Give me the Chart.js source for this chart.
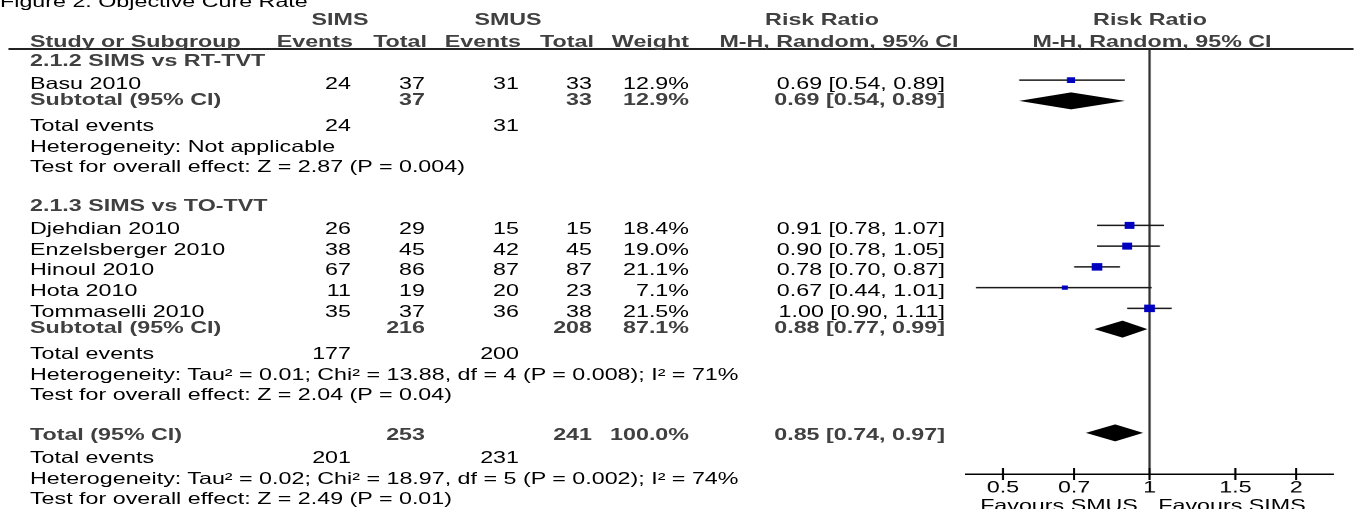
<!DOCTYPE html>
<html><head><meta charset="utf-8">
<script src="https://cdn.jsdelivr.net/npm/chart.js@4.4.1/dist/chart.umd.min.js"></script>
<style>
html,body{margin:0;padding:0;background:#fff;overflow:hidden;width:1362px;height:509px}
#stage{position:absolute;left:0;top:0;width:966px;height:509px;transform-origin:0 0;}
#stage canvas{position:absolute;left:0;top:0;}
.t{position:absolute;white-space:nowrap;font-family:"Liberation Sans",Arial,sans-serif;font-size:16.5px;line-height:16.5px;color:#000;}
.b{font-weight:bold;color:#404040;}
.r{transform:translateX(-100%);}
.c{transform:translateX(-50%);}
#rule{position:absolute;height:0;border-top:2px solid #222;}
</style></head>
<body><div id="stage"><canvas id="c" width="966" height="509"></canvas><div id="rule"></div></div>
<script>
// ---------------- DATA ----------------
const title = "Figure 2: Objective Cure Rate";
const studies = ["Basu 2010", "Djehdian 2010", "Enzelsberger 2010", "Hinoul 2010", "Hota 2010", "Tommaselli 2010"];
const simsEvents = [24, 26, 38, 67, 11, 35];
const simsTotal = [37, 29, 45, 86, 19, 37];
const smusEvents = [31, 15, 42, 87, 20, 36];
const smusTotal = [33, 15, 45, 87, 23, 38];
const weights = [12.9, 18.4, 19.0, 21.1, 7.1, 21.5];
const rr = [0.69, 0.91, 0.90, 0.78, 0.67, 1.00];
const rrLo = [0.54, 0.78, 0.78, 0.70, 0.44, 0.90];
const rrHi = [0.89, 1.07, 1.05, 0.87, 1.01, 1.11];

const subgroupNames = ["2.1.2 SIMS vs RT-TVT", "2.1.3 SIMS vs TO-TVT"];
const subgroupStudies = [[0], [1, 2, 3, 4, 5]];
const subSimsTotal = [37, 216];
const subSmusTotal = [33, 208];
const subWeight = [12.9, 87.1];
const subRR = [0.69, 0.88];
const subLo = [0.54, 0.77];
const subHi = [0.89, 0.99];
const subSimsEvents = [24, 177];
const subSmusEvents = [31, 200];
const subHet = ["Heterogeneity: Not applicable",
  "Heterogeneity: Tau\u00B2 = 0.01; Chi\u00B2 = 13.88, df = 4 (P = 0.008); I\u00B2 = 71%"];
const subTest = ["Test for overall effect: Z = 2.87 (P = 0.004)",
  "Test for overall effect: Z = 2.04 (P = 0.04)"];

const totalSimsTotal = 253;
const totalSmusTotal = 241;
const totalWeight = 100.0;
const totalRR = 0.85, totalLo = 0.74, totalHi = 0.97;
const totalSimsEvents = 201, totalSmusEvents = 231;
const totalHet = "Heterogeneity: Tau\u00B2 = 0.02; Chi\u00B2 = 18.97, df = 5 (P = 0.002); I\u00B2 = 74%";
const totalTest = "Test for overall effect: Z = 2.49 (P = 0.01)";

const tickValues = [0.5, 0.7, 1, 1.5, 2];
const tickLabels = ["0.5", "0.7", "1", "1.5", "2"];
const favoursLeft = "Favours SMUS", favoursRight = "Favours SIMS";

// ---------------- LAYOUT / STYLE ----------------
const W = 966, H = 509, SX = 1362 / W;
const FS = 16.5, CAP_MID = 0.4885;
const ROW_PX = 20.75;
const PLOT_TOP = 49, PLOT_BOTTOM = 474, PLOT_LEFT = 966, PLOT_RIGHT = 1333;
const X_MIN = 0.42, X_MAX = 2.38;
const SQ_K = 1.146;      // point radius per sqrt(weight)
const DIAMOND_H = 8.5;
const COL = {label: 30, simsEv: 351, simsTot: 425, smusEv: 519, smusTot: 592, weight: 689, rrText: 945};
const OFF = {group: 0.5, study: 2.5, subtotal: -2, events: 3.5, het: 3.5, test: 2.5, total: 1};

const stage = document.getElementById('stage');
stage.style.transform = 'scaleX(' + SX + ')';
const rule = document.getElementById('rule');
rule.style.left = (8 / SX) + 'px';
rule.style.top = '48px';
rule.style.width = ((1353 - 8) / SX) + 'px';

// table rows
const rows = [];
subgroupNames.forEach((name, g) => {
  rows.push({kind: 'group', g});
  subgroupStudies[g].forEach(i => rows.push({kind: 'study', i}));
  rows.push({kind: 'subtotal', g});
  rows.push({kind: 'events', a: subSimsEvents[g], b: subSmusEvents[g]});
  rows.push({kind: 'het', text: subHet[g]});
  rows.push({kind: 'test', text: subTest[g]});
  rows.push({kind: 'blank'});
});
rows.push({kind: 'total'});
rows.push({kind: 'events', a: totalSimsEvents, b: totalSmusEvents});
rows.push({kind: 'het', text: totalHet});
rows.push({kind: 'test', text: totalTest});

const rowY = r => r + 0.5;
const studyY = [];
const summaries = [];
rows.forEach((row, r) => {
  if (row.kind === 'study') studyY[row.i] = rowY(r);
  if (row.kind === 'subtotal') summaries.push({y: rowY(r), est: subRR[row.g], lo: subLo[row.g], hi: subHi[row.g]});
  if (row.kind === 'total') summaries.push({y: rowY(r), est: totalRR, lo: totalLo, hi: totalHi});
});

const forestPlugin = {
  id: 'forest',
  beforeDatasetsDraw(chart) {
    const {ctx, chartArea, scales: {x, y}} = chart;
    ctx.save();
    // line of no effect
    const x1 = x.getPixelForValue(1);
    ctx.strokeStyle = '#333';
    ctx.lineWidth = 1.6;
    ctx.beginPath(); ctx.moveTo(x1, chartArea.top); ctx.lineTo(x1, chartArea.bottom); ctx.stroke();
    // confidence intervals
    ctx.strokeStyle = '#1a1a1a';
    ctx.lineWidth = 1.4;
    studies.forEach((s, i) => {
      const py = y.getPixelForValue(studyY[i]);
      ctx.beginPath();
      ctx.moveTo(x.getPixelForValue(rrLo[i]), py);
      ctx.lineTo(x.getPixelForValue(rrHi[i]), py);
      ctx.stroke();
    });
    // summary diamonds
    ctx.fillStyle = '#000';
    summaries.forEach(d => {
      const py = y.getPixelForValue(d.y);
      const pe = x.getPixelForValue(d.est);
      ctx.beginPath();
      ctx.moveTo(x.getPixelForValue(d.lo), py);
      ctx.lineTo(pe, py - DIAMOND_H);
      ctx.lineTo(x.getPixelForValue(d.hi), py);
      ctx.lineTo(pe, py + DIAMOND_H);
      ctx.closePath();
      ctx.fill();
    });
    ctx.restore();
  },
  afterDraw(chart) {
    const {ctx, chartArea, scales: {x}} = chart;
    ctx.save();
    ctx.strokeStyle = '#000';
    ctx.lineWidth = 1.5;
    x.ticks.forEach(t => {
      const px = x.getPixelForValue(t.value);
      ctx.beginPath(); ctx.moveTo(px, chartArea.bottom - 6); ctx.lineTo(px, chartArea.bottom + 6); ctx.stroke();
    });
    ctx.restore();
  }
};

const chart = new Chart(document.getElementById('c'), {
  type: 'scatter',
  data: {
    datasets: [{
      data: studies.map((s, i) => ({x: rr[i], y: studyY[i]})),
      pointStyle: 'rect',
      pointRadius: c => SQ_K * Math.sqrt(weights[c.dataIndex]),
      pointHoverRadius: c => SQ_K * Math.sqrt(weights[c.dataIndex]),
      backgroundColor: '#0000C0',
      borderWidth: 0,
      showLine: false
    }]
  },
  options: {
    responsive: false,
    animation: false,
    devicePixelRatio: 2,
    events: [],
    layout: {padding: {left: PLOT_LEFT / SX, right: W - PLOT_RIGHT / SX, top: PLOT_TOP, bottom: 0}},
    plugins: {legend: {display: false}, tooltip: {enabled: false}},
    scales: {
      x: {
        type: 'logarithmic', position: 'bottom', min: X_MIN, max: X_MAX,
        afterBuildTicks: s => { s.ticks = tickValues.map(v => ({value: v})); },
        afterFit: s => { s.height = H - PLOT_BOTTOM; },
        grid: {display: false, drawTicks: false},
        border: {display: true, color: '#000', width: 1.5},
        ticks: {
          autoSkip: false, maxRotation: 0, padding: 4, color: '#000',
          font: {family: '"Liberation Sans", Arial, sans-serif', size: FS},
          callback: v => tickLabels[tickValues.indexOf(v)]
        }
      },
      y: {type: 'linear', display: false, min: 0, max: (PLOT_BOTTOM - PLOT_TOP) / ROW_PX, reverse: true}
    }
  },
  plugins: [forestPlugin]
});

// ---------------- TEXT ----------------
function put(str, xPage, yc, align, bold) {
  const d = document.createElement('div');
  d.className = 't' + (bold ? ' b' : '') + (align === 'r' ? ' r' : align === 'c' ? ' c' : '');
  d.textContent = str;
  d.style.left = (xPage / SX) + 'px';
  d.style.top = (yc - CAP_MID * FS) + 'px';
  stage.appendChild(d);
}
const fmtW = w => w.toFixed(1) + '%';
const fmtRR = (e, l, h) => e.toFixed(2) + ' [' + l.toFixed(2) + ', ' + h.toFixed(2) + ']';

put(title, 0, 1, 'l', false);
put('SIMS', 340, 19, 'c', true);
put('SMUS', 508, 19, 'c', true);
put('Risk Ratio', 822, 19, 'c', true);
put('Risk Ratio', 1150, 19, 'c', true);
put('Study or Subgroup', COL.label, 41, 'l', true);
put('Events', COL.simsEv + 2, 41, 'r', true);
put('Total', COL.simsTot + 2, 41, 'r', true);
put('Events', COL.smusEv + 2, 41, 'r', true);
put('Total', COL.smusTot + 2, 41, 'r', true);
put('Weight', COL.weight, 41, 'r', true);
put('M-H, Random, 95% CI', 839, 41, 'c', true);
put('M-H, Random, 95% CI', 1152, 41, 'c', true);

const ys = chart.scales.y;
rows.forEach((row, r) => {
  if (row.kind === 'blank') return;
  const yc = ys.getPixelForValue(rowY(r)) + OFF[row.kind];
  if (row.kind === 'group') {
    put(subgroupNames[row.g], COL.label, yc, 'l', true);
  } else if (row.kind === 'study') {
    const i = row.i;
    put(studies[i], COL.label, yc, 'l', false);
    put(String(simsEvents[i]), COL.simsEv, yc, 'r', false);
    put(String(simsTotal[i]), COL.simsTot, yc, 'r', false);
    put(String(smusEvents[i]), COL.smusEv, yc, 'r', false);
    put(String(smusTotal[i]), COL.smusTot, yc, 'r', false);
    put(fmtW(weights[i]), COL.weight, yc, 'r', false);
    put(fmtRR(rr[i], rrLo[i], rrHi[i]), COL.rrText, yc, 'r', false);
  } else if (row.kind === 'subtotal') {
    const g = row.g;
    put('Subtotal (95% CI)', COL.label, yc, 'l', true);
    put(String(subSimsTotal[g]), COL.simsTot, yc, 'r', true);
    put(String(subSmusTotal[g]), COL.smusTot, yc, 'r', true);
    put(fmtW(subWeight[g]), COL.weight, yc, 'r', true);
    put(fmtRR(subRR[g], subLo[g], subHi[g]), COL.rrText, yc, 'r', true);
  } else if (row.kind === 'total') {
    put('Total (95% CI)', COL.label, yc, 'l', true);
    put(String(totalSimsTotal), COL.simsTot, yc, 'r', true);
    put(String(totalSmusTotal), COL.smusTot, yc, 'r', true);
    put(fmtW(totalWeight), COL.weight, yc, 'r', true);
    put(fmtRR(totalRR, totalLo, totalHi), COL.rrText, yc, 'r', true);
  } else if (row.kind === 'events') {
    put('Total events', COL.label, yc, 'l', false);
    put(String(row.a), COL.simsEv, yc, 'r', false);
    put(String(row.b), COL.smusEv, yc, 'r', false);
  } else {
    put(row.text, COL.label, yc, 'l', false);
  }
});
put(favoursLeft, 1059, 505, 'c', false);
put(favoursRight, 1232, 505, 'c', false);
</script>
</body></html>
